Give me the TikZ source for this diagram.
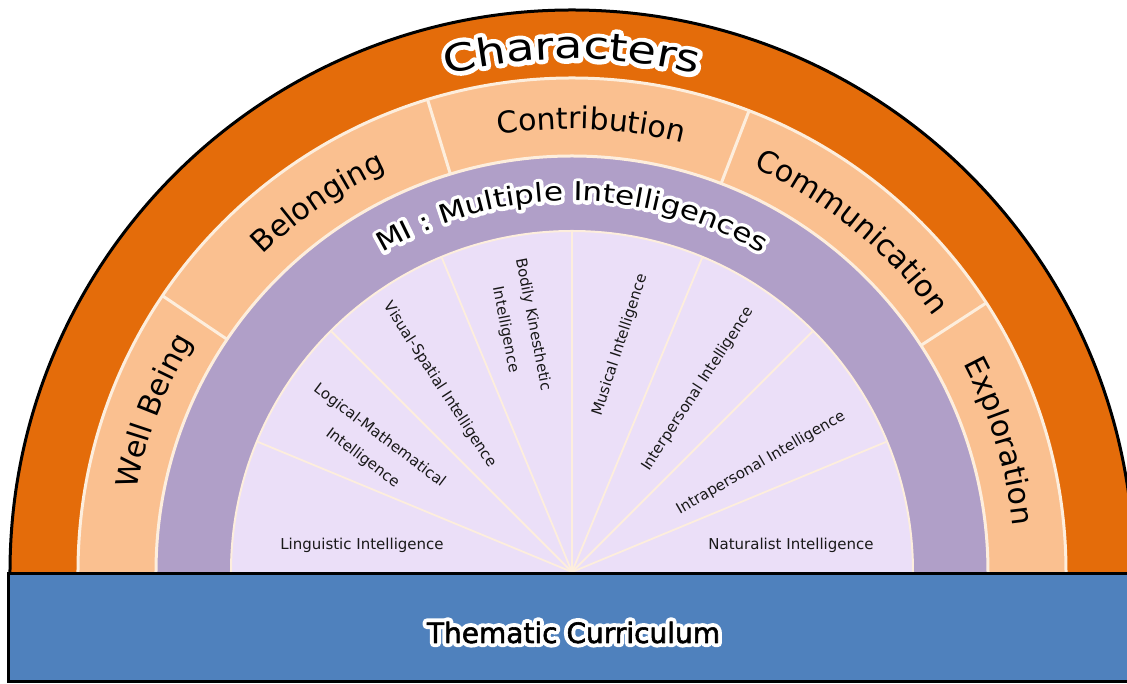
\documentclass[tikz,border=0pt]{standalone}
\usepackage{fontspec}
\setmainfont{DejaVu Sans}
\newfontfamily\wideA[FakeStretch=1.22]{DejaVu Sans}
\newfontfamily\wideAH[FakeStretch=1.22,FakeBold=24]{DejaVu Sans}
\newfontfamily\wideB[FakeStretch=1.2]{DejaVu Sans}
\newfontfamily\wideBH[FakeStretch=1.2,FakeBold=28]{DejaVu Sans}
\newfontfamily\themeK[FakeBold=2]{DejaVu Sans}
\newfontfamily\themeH[FakeBold=30]{DejaVu Sans}
\usetikzlibrary{decorations.text}
\definecolor{orng}{HTML}{E46C0A}
\definecolor{peach}{HTML}{FAC090}
\definecolor{mauve}{HTML}{B09FC8}
\definecolor{lilac}{HTML}{EBDFF8}
\definecolor{cream}{HTML}{FDEEDD}
\definecolor{bluebar}{HTML}{4F81BD}
\newcommand\fChar{\wideA\fontsize{38}{40}\selectfont}
\newcommand\fCharH{\wideAH\fontsize{38}{40}\selectfont}
\newcommand\fMI{\wideB\fontsize{26}{28}\selectfont}
\newcommand\fMIH{\wideBH\fontsize{26}{28}\selectfont}
\newcommand\fPeach{\fontsize{30}{34}\selectfont}
\newcommand\cW{\color{white}}
\newcommand\cK{\color{black}}
\newcommand\arclabel[4]{%
  \pgfmathsetmacro\angS{#2+70}%
  \pgfmathsetmacro\angE{#2-70}%
  \path[line join=round,decorate,decoration={text along path,text align=center,text={|#3|#4}}]
    (\angS:#1) arc[start angle=\angS,end angle=\angE,radius=#1];}
\newcommand\haloarc[5]{%
  \arclabel{#1}{#2}{#3\cW}{#5}%
  \arclabel{#1}{#2}{#4\cK}{#5}}
\tikzset{
  ilabel/.style={font=\fontsize{15}{28}\selectfont, text=black!90, align=center, inner sep=0pt},
  sep/.style={draw=cream, line width=3pt},
  ray/.style={draw=cream, line width=1.8pt}
}
\begin{document}
\begin{tikzpicture}[x=1pt,y=1pt,line join=round]
\useasboundingbox (-572,-112) rectangle (555,572);
\clip (-572,-112) rectangle (555,572);
\coordinate (O) at (0,0);
% bands
\fill[orng] (-562,0) arc[start angle=180,end angle=0,radius=562] -- cycle;
\fill[peach] (-494,0) arc[start angle=180,end angle=0,radius=494] -- cycle;
\fill[mauve] (-416,0) arc[start angle=180,end angle=0,radius=416] -- cycle;
\fill[lilac] (-341,0) arc[start angle=180,end angle=0,radius=341] -- cycle;
\draw[line width=3pt] (-562,0) arc[start angle=180,end angle=0,radius=562];
\draw[sep] (-494,0) arc[start angle=180,end angle=0,radius=494];
\draw[sep] (-416,0) arc[start angle=180,end angle=0,radius=416];
\draw[sep, line width=2pt] (-341,0) arc[start angle=180,end angle=0,radius=341];
% dividers of the peach band
\foreach \a in {33,69,107,146} \draw[sep] (\a:416) -- (\a:494);
% rays of the inner sectors
\foreach \k in {1,...,7} \draw[ray] (O) -- (\k*22.5:340);
% base bar
\draw[line width=3pt, line join=miter, fill=bluebar] (-563,-1.5) rectangle (600,-109.5);
% intelligences
\node[ilabel] (ling) at (-210,27) {Linguistic Intelligence};
\node[ilabel, rotate=-37] (logi) at (-201,125) {Logical-Mathematical\\Intelligence};
\node[ilabel, rotate=-57] (visu) at (-132,187) {Visual-Spatial Intelligence};
\node[ilabel, rotate=-79] (bodi) at (-53,245) {Bodily Kinesthetic\\Intelligence};
\node[ilabel, rotate=72] (musi) at (48,227) {Musical Intelligence};
\node[ilabel, rotate=57] (inter) at (126,183) {Interpersonal Intelligence};
\node[ilabel, rotate=30] (intra) at (189,109) {Intrapersonal Intelligence};
\node[ilabel] (natu) at (219,27) {Naturalist Intelligence};
% curved labels
\arclabel{443}{159}{\fPeach\cK}{Well Being}
\arclabel{443}{124.5}{\fPeach\cK}{Belonging}
\arclabel{443}{87.5}{\fPeach\cK}{Contribution}
\arclabel{443}{50.5}{\fPeach\cK}{Communication}
\arclabel{443}{17}{\fPeach\cK}{Exploration}
\haloarc{513}{90}{\fCharH}{\fChar}{Characters}
\haloarc{371}{90}{\fMIH}{\fMI}{MI : Multiple Intelligences}
% bar title
\node[font=\themeH\fontsize{28}{30}\selectfont, text=white, anchor=base, inner sep=0pt, line join=round] (themehalo) at (1.5,-71) {Thematic Curriculum};
\node[font=\themeK\fontsize{28}{30}\selectfont, anchor=base, inner sep=0pt] (theme) at (1.5,-71) {Thematic Curriculum};
\end{tikzpicture}
\end{document}
